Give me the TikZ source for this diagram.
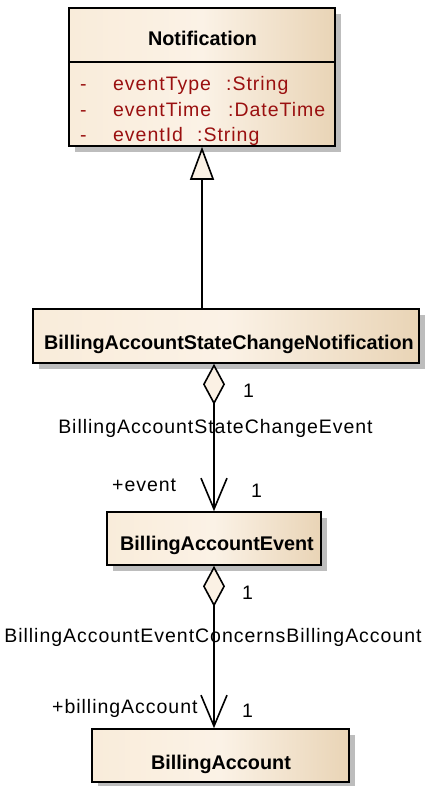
\documentclass[tikz,border=0pt]{standalone}
\usepackage{fontspec}
\setmainfont{Liberation Sans}
\newfontfamily\regf[LetterSpace=5]{Liberation Sans}
\newfontfamily\boldf{Liberation Sans}
\usetikzlibrary{arrows.meta,shadows}
\definecolor{boxleft}{HTML}{F9ECDA}
\definecolor{boxmid}{HTML}{FBF2E6}
\definecolor{boxright}{HTML}{E9D4B6}
\definecolor{attrred}{HTML}{9A1010}
\definecolor{tipfill}{HTML}{FBF1E4}
\definecolor{shadowgray}{HTML}{BDBDBD}
\tikzset{
  umlbox/.style={draw=black, line width=1.6pt, inner sep=0pt,
    left color=boxleft, right color=boxright, middle color=boxmid,
    drop shadow={shadow xshift=6pt, shadow yshift=-6pt, fill=shadowgray, opacity=1}},
  reg/.style={font=\regf\fontsize{19.5}{23}\selectfont, inner sep=0pt},
  bld/.style={font=\boldf\bfseries\fontsize{19.8}{23}\selectfont, inner sep=0pt},
  attr/.style={reg, text=attrred, anchor=base west},
  conn/.style={line width=1.6pt, draw=black},
  genz/.style={conn, -{Triangle[open, length=33pt, width=24pt, fill=tipfill]}},
  aggr/.style={conn, {Diamond[length=41pt, width=22pt, fill=tipfill]}-{Straight Barb[length=31pt, width=26pt]}}
}
\begin{document}
\begin{tikzpicture}[x=1pt,y=-1pt]
\useasboundingbox (0,0) rectangle (425,786);
% boxes
\node[umlbox, minimum width=266pt, minimum height=138pt] (notif) at (202,77) {};
\node[umlbox, minimum width=386pt, minimum height=54pt] (bascn) at (226,336) {};
\node[umlbox, minimum width=214pt, minimum height=53pt] (bae) at (214,538.5) {};
\node[umlbox, minimum width=257pt, minimum height=53pt] (ba) at (220.5,755.5) {};
% Notification divider and texts
\coordinate (divl) at (69,62);
\coordinate (divr) at (335,62);
\draw[line width=1.6pt] (divl) -- (divr);
\node[bld, anchor=base] (notift) at (202.5,46) {Notification};
\node[attr] (a1m) at (80,91) {-};
\node[attr] (a1n) at (113,91) {eventType};
\node[attr] (a1t) at (226,91) {:String};
\node[attr] (a2m) at (80,117) {-};
\node[attr] (a2n) at (113,117) {eventTime};
\node[attr] (a2t) at (228,117) {:DateTime};
\node[attr] (a3m) at (80,142) {-};
\node[attr] (a3n) at (113,142) {eventId};
\node[attr] (a3t) at (197,142) {:String};
% class names
\node[bld, anchor=base] (bascnt) at (229,349) {BillingAccountStateChangeNotification};
\node[bld, anchor=base] (baet) at (217,550) {BillingAccountEvent};
\node[bld, anchor=base] (bat) at (221,769) {BillingAccount};
% connectors
\draw[genz] (bascn.north -| notif.south) -- (notif.south);
\draw[aggr] (bascn.south -| bae.north) -- (bae.north);
\draw[aggr] (bae.south) -- (bae.south |- ba.north);
% labels
\node[reg, anchor=base west] (m1) at (243,397) {1};
\node[reg, anchor=base] (l1) at (215.5,433) {BillingAccountStateChangeEvent};
\node[reg, anchor=base west] (r1) at (112,491) {+event};
\node[reg, anchor=base west] (m2) at (251,497) {1};
\node[reg, anchor=base west] (m3) at (242,599) {1};
\node[reg, anchor=base] (l2) at (213,642) {BillingAccountEventConcernsBillingAccount};
\node[reg, anchor=base west] (r2) at (52,713) {+billingAccount};
\node[reg, anchor=base west] (m4) at (242,717) {1};
\end{tikzpicture}
\end{document}
